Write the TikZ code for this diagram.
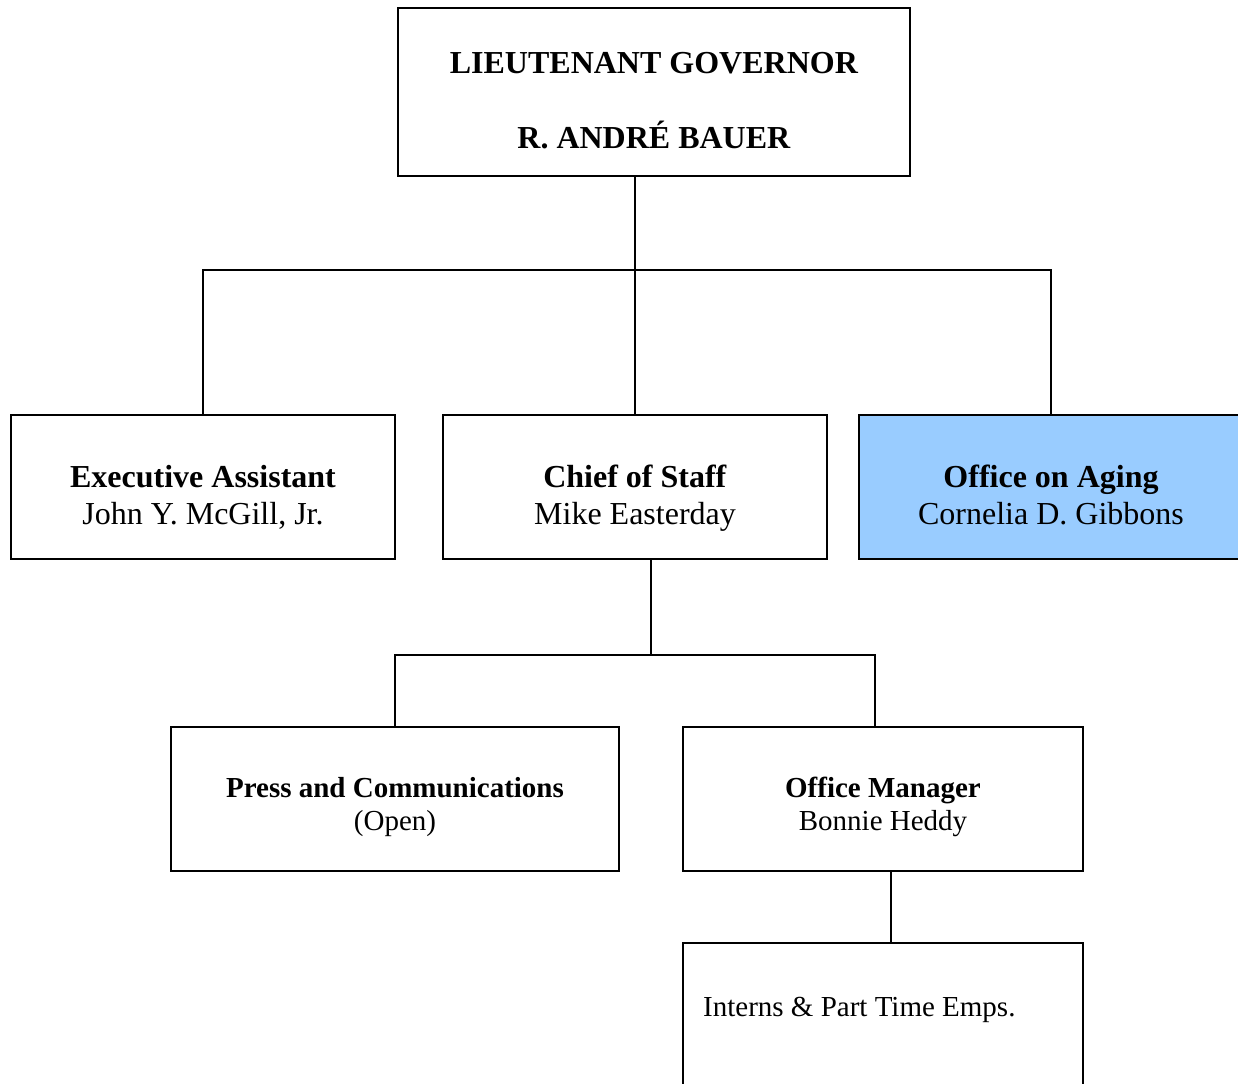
\documentclass[tikz,border=0pt]{standalone}
\usepackage{fontspec}
\setmainfont{Liberation Serif}
\definecolor{agingblue}{HTML}{99CCFF}
\begin{document}
\begin{tikzpicture}[x=1pt,y=-1pt,
  box/.style={draw=black, line width=2pt, rectangle, inner sep=0pt, outer sep=0pt, anchor=north west},
  big/.style={font=\fontsize{32}{38}\selectfont, anchor=base, inner sep=0pt},
  small/.style={font=\fontsize{29}{33}\selectfont, anchor=base, inner sep=0pt},
  conn/.style={draw=black, line width=2pt}]
\useasboundingbox (0,0) rectangle (1238,1083);
\clip (0,0) rectangle (1238,1083);
% boxes
\node[box, minimum width=512pt, minimum height=168pt] (lg) at (398,8) {};
\node[box, minimum width=384pt, minimum height=144pt] (exec) at (11,415) {};
\node[box, minimum width=384pt, minimum height=144pt] (chief) at (443,415) {};
\node[box, fill=agingblue, minimum width=384pt, minimum height=144pt] (aging) at (859,415) {};
\node[box, minimum width=448pt, minimum height=144pt] (press) at (171,727) {};
\node[box, minimum width=400pt, minimum height=144pt] (om) at (683,727) {};
\node[box, minimum width=400pt, minimum height=144pt] (interns) at (683,943) {};
% texts
\node[big] (lg1) at (654,74) {\textbf{LIEUTENANT GOVERNOR}};
\node[big] (lg2) at (654,149) {\textbf{R. ANDRÉ BAUER}};
\node[big] (exec1) at (203,487) {\textbf{Executive Assistant}};
\node[big] (exec2) at (203,524) {John Y. McGill, Jr.};
\node[big] (chief1) at (635,487) {\textbf{Chief of Staff}};
\node[big] (chief2) at (635,524) {Mike Easterday};
\node[big] (aging1) at (1051,487) {\textbf{Office on Aging}};
\node[big] (aging2) at (1051,524) {Cornelia D. Gibbons};
\node[small] (press1) at (395,797) {\textbf{Press and Communications}};
\node[small] (press2) at (395,830) {(Open)};
\node[small] (om1) at (883,797) {\textbf{Office Manager}};
\node[small] (om2) at (883,830) {Bonnie Heddy};
\node[small, anchor=base west] (int1) at (703,1016) {Interns \& Part Time Emps.};
% connectors
\coordinate (j1) at (635,270);
\coordinate (j2) at (651,655);
\coordinate (j2r) at (875,655);
\coordinate (j3) at (891,900);
\draw[conn] (lg.south -| j1) -- (j1);
\draw[conn] (exec.north) |- (j1);
\draw[conn] (aging.north) |- (j1);
\draw[conn] (chief.north -| j1) -- (j1);
\draw[conn] (chief.south -| j2) -- (j2);
\draw[conn] (press.north) |- (j2) -- (j2r) -- (j2r |- om.north);
\draw[conn] (om.south -| j3) -- (interns.north -| j3);
\end{tikzpicture}
\end{document}
